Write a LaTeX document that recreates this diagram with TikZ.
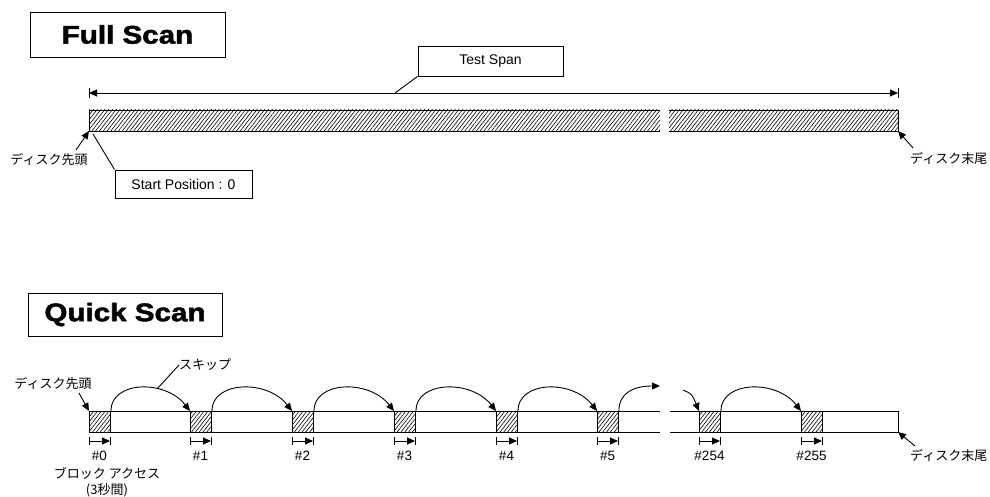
\documentclass[tikz,border=0pt]{standalone}
\usepackage{fontspec}
\setmainfont{Liberation Sans}
\newfontfamily\heavy{Liberation Sans}[BoldFeatures={FakeBold=1.8}]
\newfontfamily\jp{Noto Sans CJK JP}
\usetikzlibrary{arrows.meta,patterns.meta}
\tikzset{
  ln/.style={line width=0.9pt},
  hatch/.style={pattern={Lines[angle=52,distance=3pt,line width=0.6pt]}},
  titlebox/.style={draw,ln,inner sep=0pt,font=\heavy\fontsize{25.5}{26}\selectfont\bfseries},
  callbox/.style={draw,ln,inner sep=0pt,font=\fontsize{14}{14}\selectfont},
  jplabel/.style={inner sep=0pt,font=\jp\fontsize{13}{14}\selectfont},
  numlabel/.style={inner sep=0pt,font=\fontsize{13.5}{14}\selectfont},
  blockbox/.style={draw,ln,hatch,inner sep=0pt,minimum width=21pt,minimum height=21pt,anchor=north west},
  tip/.style={-{Triangle[length=8pt,width=7pt]}},
}
\begin{document}
\begin{tikzpicture}[x=1pt,y=-1pt]
\useasboundingbox (0,0) rectangle (990,497);

% ---------- Full Scan ----------
\node[titlebox,minimum width=195pt,minimum height=45pt] (full) at (127.5,34.5) {\scalebox{1.16}[1]{Full Scan}};

\coordinate (sL) at (89,93);
\coordinate (sR) at (898,93);
\draw[ln,{Triangle[length=8pt,width=7pt]}-{Triangle[length=8pt,width=7pt]}] (sL) -- (sR);
\draw[ln] ([yshift=-5pt]sL) -- ([yshift=5pt]sL);
\draw[ln] ([yshift=-5pt]sR) -- ([yshift=5pt]sR);

\coordinate (fTL) at (89,110);  \coordinate (fBL) at (89,131);
\coordinate (fTM) at (660,110); \coordinate (fBM) at (660,131);
\coordinate (fTN) at (669,110); \coordinate (fBN) at (669,131);
\coordinate (fTR) at (898,110); \coordinate (fBR) at (898,131);
\fill[hatch] (fTL) rectangle (fBM);
\fill[hatch] (fTN) rectangle (fBR);
\draw[ln] (fTM) -- (fTL) -- (fBL) -- (fBM);
\draw[ln] (fTN) -- (fTR) -- (fBR) -- (fBN);

\node[callbox,minimum width=145pt,minimum height=30pt] (ts) at (490.5,61) {Test Span};
\coordinate (tsp) at (395,93);
\draw[ln] (ts.south west) -- (tsp);

\node[callbox,minimum width=137pt,minimum height=28pt] (sp) at (183.5,184) {Start Position : 0};
\coordinate (spp) at (93,134);
\draw[ln] (sp.north west) -- (spp);

\node[jplabel] (fhead) at (49,160) {ディスク先頭};
\coordinate (fha) at (76,150);
\draw[ln,tip] (fha) -- (fBL);

\node[jplabel,anchor=west] (ftail) at (910,158) {ディスク末尾};
\coordinate (fta) at (913,148);
\draw[ln,tip] (fta) -- (fBR);

% ---------- Quick Scan ----------
\node[titlebox,minimum width=194pt,minimum height=43pt] (quick) at (125,314.5) {\scalebox{1.16}[1]{Quick Scan}};

\coordinate (qTL) at (89,411);  \coordinate (qBL) at (89,432);
\coordinate (qTM) at (660,411); \coordinate (qBM) at (660,432);
\coordinate (qTN) at (670,411); \coordinate (qBN) at (670,432);
\coordinate (qTR) at (898,411); \coordinate (qBR) at (898,432);
\draw[ln] (qTM) -- (qTL) -- (qBL) -- (qBM);
\draw[ln] (qTN) -- (qTR) -- (qBR) -- (qBN);

\foreach \i/\x/\t in {0/89/\#0,1/190/\#1,2/292/\#2,3/394/\#3,4/496/\#4,5/597/\#5,6/699/\#254,7/801/\#255}{
  \node[blockbox] (blk\i) at (\x,411) {};
  \coordinate (tl\i) at (\x,441);
  \coordinate (tr\i) at (\x+21,441);
  \draw[ln,tip] (tl\i) -- (tr\i);
  \draw[ln] ([yshift=-4pt]tl\i) -- ([yshift=4pt]tl\i);
  \draw[ln] ([yshift=-4pt]tr\i) -- ([yshift=4pt]tr\i);
  \node[numlabel] (lab\i) at (\x+10.5,456) {\t};
}

\foreach \i/\j in {0/1,1/2,2/3,3/4,4/5,6/7}{
  \draw[ln,tip] (blk\i.north east) .. controls ++(0,-30) and ++(-25,-32) .. (blk\j.north west);
}
\coordinate (outA) at (660,386);
\draw[ln,tip] (blk5.north east) .. controls ++(0,-19) and ++(-25,0) .. (outA);
\coordinate (inA) at (683,390);
\draw[ln,tip] (inA) .. controls ++(9,4) .. (blk6.north west);

\node[jplabel,anchor=west] (skip) at (179,365) {スキップ};
\coordinate (skp) at (157,389);
\draw[ln] (skip.west) -- (skp);

\node[jplabel] (qhead) at (53,384) {ディスク先頭};
\coordinate (qha) at (79,393);
\draw[ln,tip] (qha) -- (blk0.north west);

\node[jplabel,anchor=west] (qtail) at (910,455) {ディスク末尾};
\coordinate (qta) at (915,446);
\draw[ln,tip] (qta) -- (qBR);

\node[jplabel] (acc) at (107,473) {ブロック アクセス};
\node[jplabel] (sec) at (107,490) {(3秒間)};
\end{tikzpicture}
\end{document}
